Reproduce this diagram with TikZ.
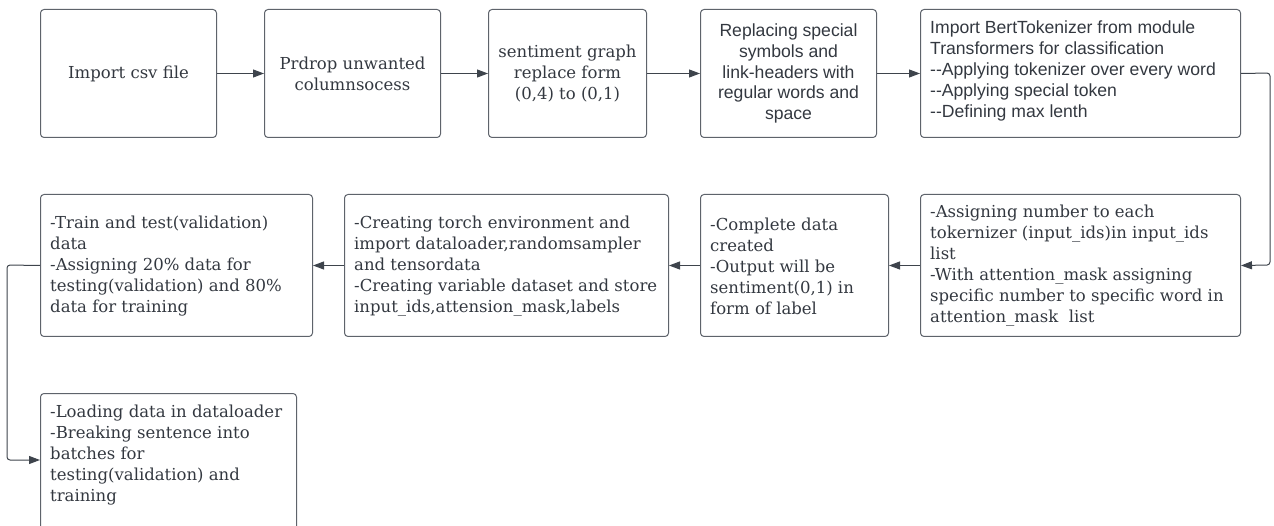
\documentclass[tikz,border=0pt]{standalone}
\usepackage{fontspec}
\setmainfont{DejaVu Serif}
\newfontfamily\sansf{Liberation Sans}
\usetikzlibrary{arrows.meta}
\definecolor{edge}{HTML}{5E636B}
\definecolor{txt}{HTML}{333840}
\definecolor{arr}{HTML}{3E444C}
\tikzset{
  x=1pt,y=1pt,
  box/.style={draw=edge, line width=1pt, rounded corners=3.5pt, anchor=north west, inner sep=0pt},
  serc/.style={font=\fontsize{16.5}{21}\selectfont, align=center, text=txt},
  sanc/.style={font=\sansf\fontsize{17.6}{20.8}\selectfont, align=center, text=txt},
  sanl/.style={font=\sansf\fontsize{17.6}{20.8}\selectfont, align=left, text=txt, inner sep=0pt},
  serl/.style={font=\fontsize{16.5}{21}\selectfont, align=left, text=txt, inner sep=0pt},
  conn/.style={draw=arr, line width=1pt, -{Triangle[length=11pt,width=8pt]}},
}
\begin{document}
\begin{tikzpicture}
\useasboundingbox (0,0) rectangle (1274,-526);
% row 1
\node[box,serc,minimum width=176,minimum height=128] (b1) at (40,-9) {Import csv file};
\node[box,serc,minimum width=176,minimum height=128] (b2) at (264,-9) {Prdrop unwanted\\columnsocess};
\node[box,serc,minimum width=158,minimum height=128] (b3) at (488,-9) {sentiment graph\\replace form\\(0,4) to (0,1)};
\node[box,sanc,minimum width=176,minimum height=128] (b4) at (700,-9) {Replacing special\\symbols and\\link-headers with\\regular words and\\space};
\node[box,minimum width=320,minimum height=128] (b5) at (920,-9) {};
\node[sanl,anchor=west] (t5) at (930,-71) {Import BertTokenizer from module\\Transformers for classification\\--Applying tokenizer over every word\\--Applying special token\\--Defining max lenth};
% row 2
\node[box,minimum width=320,minimum height=142] (c4) at (920,-194) {};
\node[serl,anchor=west] (t4) at (930,-266) {-Assigning number to each\\tokernizer (input\_ids)in input\_ids\\list\\-With attention\_mask assigning\\specific number to specific word in\\attention\_mask\ \ list};
\node[box,minimum width=188,minimum height=142] (c3) at (700,-194) {};
\node[serl,anchor=west] (t3) at (710,-266) {-Complete data\\created\\-Output will be\\sentiment(0,1) in\\form of label};
\node[box,minimum width=324,minimum height=142] (c2) at (344,-194) {};
\node[serl,anchor=west] (t2) at (354,-266) {-Creating torch environment and\\import dataloader,randomsampler\\and tensordata\\-Creating variable dataset and store\\input\_ids,attension\_mask,labels};
\node[box,minimum width=272,minimum height=142] (c1) at (40,-194) {};
\node[serl,anchor=west] (t1) at (50,-266) {-Train and test(validation)\\data\\-Assigning 20\% data for\\testing(validation) and 80\%\\data for training};
% row 3
\node[box,minimum width=256,minimum height=145] (d1) at (40,-393) {};
\node[serl,anchor=north west] (t0) at (50,-405) {-Loading data in dataloader\\-Breaking sentence into\\batches for\\testing(validation) and\\training};
% connectors
\draw[conn] (b1.east) -- (b2.west);
\draw[conn] (b2.east) -- (b3.west);
\draw[conn] (b3.east) -- (b4.west);
\draw[conn] (b4.east) -- (b5.west);
\coordinate (r1) at (1270,-73);
\coordinate (r2) at (1270,-265);
\draw[conn, rounded corners=3pt] (b5.east) -- (r1) -- (r2) -- (c4.east);
\draw[conn] (c4.west) -- (c3.east);
\draw[conn] (c3.west) -- (c2.east);
\draw[conn] (c2.west) -- (c1.east);
\coordinate (l1) at (7,-265);
\coordinate (l2) at (7,-460);
\coordinate (l3) at (40,-460);
\draw[conn, rounded corners=3pt] (c1.west) -- (l1) -- (l2) -- (l3);
\end{tikzpicture}
\end{document}
